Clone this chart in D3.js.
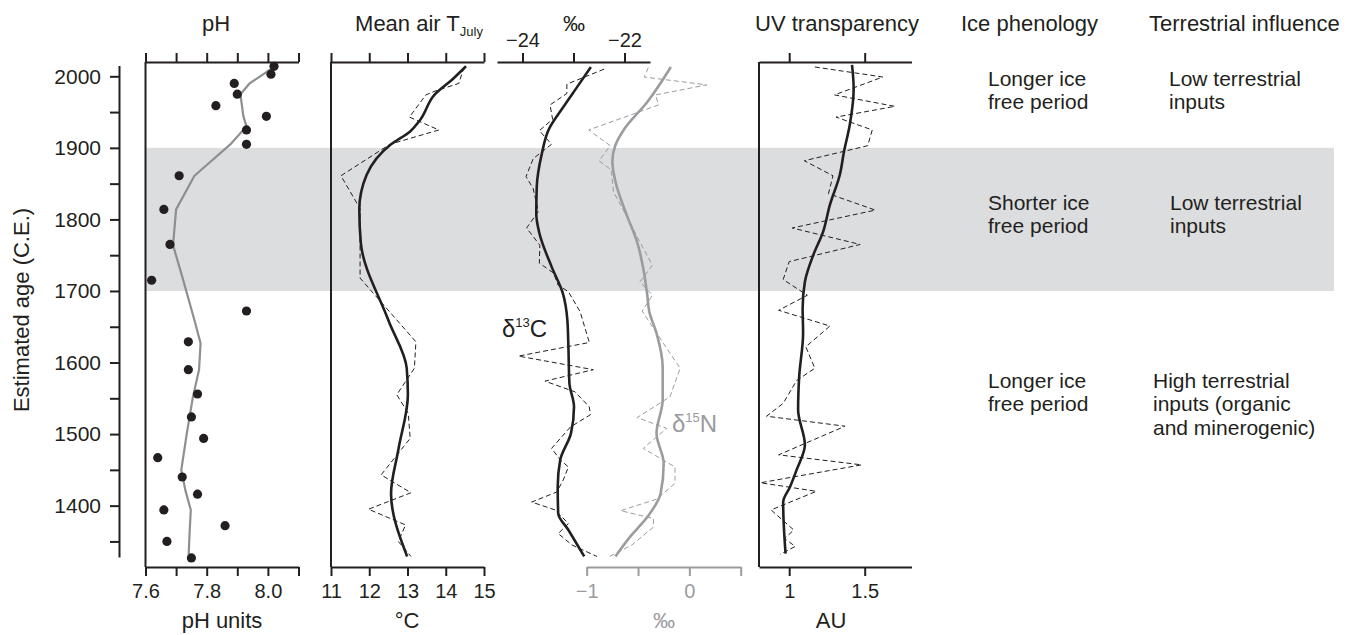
<!DOCTYPE html>
<html>
<head>
<meta charset="utf-8">
<script src="https://cdn.jsdelivr.net/npm/d3@7"></script>
<style>
  body { margin: 0; background: #fff; }
  svg text { font-family: "Liberation Sans", Arial, Helvetica, sans-serif; }
</style>
</head>
<body>
<svg id="chart" width="1354" height="635"></svg>
<script>
// ---- axis ticks ----
var ageTicks = [1350, 1400, 1450, 1500, 1550, 1600, 1650, 1700, 1750, 1800, 1850, 1900, 1950, 2000];
var phTicks = [7.6, 7.7, 7.8, 7.9, 8.0, 8.1];
var phLabels = [7.6, 7.8, 8.0];
var tempTicks = [11, 12, 13, 14, 15];
var d13cTicks = [-24, -23, -22];
var d13cLabels = [-24, -22];
var d15nTicks = [-1, -0.5, 0, 0.5];
var d15nLabels = [-1, 0];
var uvTicks = [1, 1.5];

// ---- pH ----
var phYears = [2014, 2003, 1990, 1975, 1959, 1944, 1925, 1905, 1861, 1814, 1765, 1715, 1672, 1629, 1590, 1556, 1524, 1494, 1467, 1440, 1416, 1394, 1372, 1350, 1327];
var phValues = [8.02, 8.01, 7.89, 7.90, 7.83, 7.995, 7.93, 7.93, 7.71, 7.66, 7.68, 7.62, 7.93, 7.74, 7.74, 7.77, 7.75, 7.79, 7.64, 7.72, 7.77, 7.66, 7.86, 7.67, 7.75];
var phSmoothYears = [2013, 1990, 1975, 1944, 1930, 1906, 1861, 1814, 1764, 1720, 1659, 1627, 1590, 1552, 1501, 1450, 1422, 1394, 1361, 1331];
var phSmoothValues = [8.02, 7.94, 7.91, 7.92, 7.93, 7.88, 7.76, 7.70, 7.69, 7.72, 7.76, 7.78, 7.775, 7.755, 7.735, 7.717, 7.73, 7.748, 7.744, 7.741];

// ---- mean air T July ----
var tempYears = [2013, 1990, 1980, 1974, 1943, 1925, 1905, 1861, 1815, 1718, 1629, 1592, 1555, 1529, 1494, 1443, 1418, 1395, 1373, 1350, 1329];
var tempValues = [14.48, 14.34, 13.75, 13.48, 13.05, 13.82, 12.54, 11.26, 11.76, 11.76, 13.22, 13.18, 12.72, 13.02, 13.07, 12.31, 13.09, 11.98, 12.95, 12.76, 13.09];
var tempSmoothYears = [2014, 1997, 1975, 1939, 1923, 1905, 1862, 1814, 1767, 1659, 1592, 1555, 1478, 1417, 1329];
var tempSmoothValues = [14.53, 14.20, 13.72, 13.33, 13.07, 12.57, 11.93, 11.74, 11.78, 12.50, 12.98, 13.01, 12.76, 12.57, 12.99];

// ---- d13C ----
var d13cYears = [2010, 1989, 1976, 1960, 1940, 1924, 1905, 1885, 1860, 1843, 1811, 1788, 1764, 1739, 1725, 1708, 1699, 1671, 1628, 1609, 1590, 1574, 1559, 1538, 1527, 1510, 1480, 1464, 1454, 1436, 1419, 1405, 1394, 1375, 1361, 1345, 1329];
var d13cValues = [-22.40, -23.13, -23.13, -23.46, -23.41, -23.67, -23.43, -23.79, -23.93, -23.79, -23.69, -23.92, -23.66, -23.67, -23.39, -23.30, -23.10, -22.87, -22.69, -24.08, -22.61, -23.56, -22.97, -22.69, -22.67, -23.06, -23.43, -23.26, -23.10, -23.20, -23.33, -23.82, -23.36, -23.10, -23.30, -23.03, -22.54];
var d13cSmoothYears = [2013, 1988, 1957, 1925, 1892, 1846, 1808, 1781, 1734, 1697, 1659, 1622, 1571, 1538, 1501, 1464, 1426, 1389, 1366, 1329];
var d13cSmoothValues = [-22.66, -22.90, -23.20, -23.49, -23.62, -23.72, -23.73, -23.67, -23.43, -23.21, -23.12, -23.10, -23.08, -22.99, -23.05, -23.26, -23.31, -23.30, -23.10, -22.79];

// ---- d15N ----
var d15nYears = [2012, 1999, 1988, 1974, 1960, 1925, 1903, 1882, 1869, 1839, 1788, 1776, 1736, 1713, 1694, 1672, 1650, 1592, 1552, 1523, 1508, 1480, 1454, 1431, 1409, 1393, 1382, 1370, 1345, 1328];
var d15nValues = [-0.40, -0.44, 0.17, -0.33, -0.30, -0.98, -0.77, -0.88, -0.76, -0.74, -0.55, -0.51, -0.36, -0.48, -0.36, -0.46, -0.36, -0.09, -0.19, -0.51, -0.22, -0.45, -0.14, -0.14, -0.32, -0.67, -0.35, -0.35, -0.56, -0.79];
var d15nSmoothYears = [2013, 1964, 1925, 1904, 1881, 1853, 1806, 1769, 1732, 1694, 1671, 1641, 1594, 1548, 1501, 1459, 1417, 1384, 1356, 1329];
var d15nSmoothValues = [-0.18, -0.41, -0.64, -0.72, -0.75, -0.72, -0.61, -0.51, -0.45, -0.41, -0.39, -0.32, -0.26, -0.26, -0.32, -0.25, -0.28, -0.41, -0.58, -0.72];

// ---- UV transparency ----
var uvYears = [2013, 1999, 1974, 1958, 1943, 1925, 1903, 1882, 1861, 1836, 1813, 1788, 1765, 1741, 1716, 1694, 1673, 1651, 1622, 1592, 1575, 1543, 1525, 1511, 1471, 1457, 1432, 1420, 1394, 1366, 1354, 1343, 1332];
var uvValues = [1.17, 1.62, 1.30, 1.70, 1.31, 1.55, 1.52, 1.10, 1.29, 1.26, 1.57, 1.02, 1.47, 1.00, 0.96, 1.12, 0.93, 1.27, 1.11, 1.17, 1.05, 0.96, 0.85, 1.37, 0.93, 1.48, 0.81, 1.18, 0.88, 1.03, 0.97, 1.04, 0.94];
var uvSmoothYears = [2016, 1983, 1932, 1895, 1862, 1820, 1783, 1750, 1713, 1676, 1641, 1580, 1534, 1485, 1450, 1426, 1405, 1361, 1333];
var uvSmoothValues = [1.416, 1.427, 1.401, 1.363, 1.335, 1.269, 1.225, 1.159, 1.104, 1.089, 1.092, 1.066, 1.059, 1.104, 1.049, 1.005, 0.96, 0.967, 0.976];

// ---- interpretation columns ----
var icePhenology = [["Longer ice", "free period"], ["Shorter ice", "free period"], ["Longer ice", "free period"]];
var terrestrial = [["Low terrestrial", "inputs"], ["Low terrestrial", "inputs"], ["High terrestrial", "inputs (organic", "and minerogenic)"]];

var svg = d3.select("#chart");
var FONT = "'Liberation Sans', Arial, Helvetica, sans-serif";
var ink = "#231f20", grey = "#9a9c9f", bandFill = "#dcdddf";
var frameTop = 62, frameBot = 567;

var y = d3.scaleLinear().domain([1300, 2000]).range([577.2, 76.3]);

// scales per panel
var xPh = d3.scaleLinear().domain([7.6, 8.1]).range([145.5, 298.5]);
var xT = d3.scaleLinear().domain([11, 15]).range([331, 484]);
var xC = d3.scaleLinear().domain([-24.5, -21.5]).range([497, 650]);
var xN = d3.scaleLinear().domain([-1, 0.5]).range([586.7, 740.7]);
var xUv = d3.scaleLinear().domain([0.8, 1.81]).range([759, 911.5]);

// shaded period 1700-1900
svg.append("rect")
  .attr("x", 146).attr("width", 1334 - 146)
  .attr("y", y(1900)).attr("height", y(1700) - y(1900))
  .attr("fill", bandFill);

// age axis
var yAxis = d3.axisLeft(y).tickValues(ageTicks).tickSize(9).tickPadding(9)
  .tickFormat(function(d) { return d % 100 === 0 ? d : ""; });
var gy = svg.append("g").attr("transform", "translate(119,0)").call(yAxis)
  .attr("font-size", 21).attr("font-family", FONT).attr("color", ink);
gy.select(".domain").remove();
gy.append("line").attr("x1", 0.5).attr("x2", 0.5).attr("y1", y(2014.5)).attr("y2", y(1327.5)).attr("stroke", ink);
gy.selectAll("line").attr("stroke-width", 2);

svg.append("text")
  .attr("transform", "translate(29,310) rotate(-90)")
  .attr("text-anchor", "middle").attr("font-size", 22).attr("fill", ink)
  .text("Estimated age (C.E.)");

function hAxis(scale, orient, yPos, ticks, labels, fmt, color, pad) {
  var ax = (orient === "top" ? d3.axisTop(scale) : d3.axisBottom(scale))
    .tickValues(ticks).tickSize(9).tickSizeOuter(0).tickPadding(pad)
    .tickFormat(function(d) { return labels.indexOf(d) >= 0 ? fmt(d) : ""; });
  var g = svg.append("g").attr("transform", "translate(0," + yPos + ")").call(ax)
    .attr("font-size", 20).attr("font-family", FONT).attr("color", color);
  g.selectAll("path,line").attr("stroke-width", 2);
  return g;
}

function leftLine(scale) {
  var x0 = scale.range()[0];
  svg.append("line").attr("x1", x0).attr("x2", x0).attr("y1", frameTop).attr("y2", frameBot)
    .attr("stroke", ink).attr("stroke-width", 2);
}

function profile(scale, years, vals, color, width, dash, curve) {
  var line = d3.line()
    .x(function(d) { return scale(d[1]); })
    .y(function(d) { return y(d[0]); })
    .curve(curve || d3.curveLinear);
  svg.append("path").datum(d3.zip(years, vals))
    .attr("d", line).attr("fill", "none")
    .attr("stroke", color).attr("stroke-width", width)
    .attr("stroke-dasharray", dash ? "5,3" : null)
    .attr("stroke-linejoin", "round");
}

var noLabel = [];
var f1 = d3.format(".1f"), f0 = d3.format("");
var smooth = d3.curveMonotoneY;

// pH panel
hAxis(xPh, "top", frameTop, phTicks, noLabel, f0, ink, 6);
hAxis(xPh, "bottom", frameBot, phTicks, phLabels, f1, ink, 8);
leftLine(xPh);
profile(xPh, phSmoothYears, phSmoothValues, "#8d8f92", 2.2, false);
svg.append("g").selectAll("circle").data(d3.zip(phYears, phValues)).enter()
  .append("circle")
  .attr("cx", function(d) { return xPh(d[1]); })
  .attr("cy", function(d) { return y(d[0]); })
  .attr("r", 4.6).attr("fill", ink);

// temperature panel
hAxis(xT, "top", frameTop, tempTicks, noLabel, f0, ink, 6);
hAxis(xT, "bottom", frameBot, tempTicks, tempTicks, f0, ink, 8);
leftLine(xT);
profile(xT, tempYears, tempValues, ink, 1, true);
profile(xT, tempSmoothYears, tempSmoothValues, ink, 2.6, false, smooth);

// isotope panel
hAxis(xC, "top", frameTop, d13cTicks, d13cLabels, f0, ink, 6);
hAxis(xN, "bottom", frameBot, d15nTicks, d15nLabels, f0, grey, 8);
profile(xN, d15nYears, d15nValues, grey, 1, true);
profile(xN, d15nSmoothYears, d15nSmoothValues, grey, 2.6, false, smooth);
profile(xC, d13cYears, d13cValues, ink, 1, true);
profile(xC, d13cSmoothYears, d13cSmoothValues, ink, 2.6, false, smooth);

var lc = svg.append("text").attr("x", 502).attr("y", 337).attr("font-size", 24).attr("fill", ink);
lc.append("tspan").text("δ");
lc.append("tspan").attr("font-size", 13).attr("dy", -10).text("13");
lc.append("tspan").attr("dy", 10).text("C");
var ln = svg.append("text").attr("x", 672).attr("y", 432).attr("font-size", 24).attr("fill", grey);
ln.append("tspan").text("δ");
ln.append("tspan").attr("font-size", 13).attr("dy", -10).text("15");
ln.append("tspan").attr("dy", 10).text("N");

// UV panel
hAxis(xUv, "top", frameTop, uvTicks, noLabel, f0, ink, 6);
hAxis(xUv, "bottom", frameBot, uvTicks, uvTicks, f0, ink, 8);
leftLine(xUv);
profile(xUv, uvYears, uvValues, ink, 1, true);
profile(xUv, uvSmoothYears, uvSmoothValues, ink, 2.6, false, smooth);

// headers
function label(x, yy, txt, color, anchor) {
  return svg.append("text").attr("x", x).attr("y", yy).attr("font-size", 22)
    .attr("text-anchor", anchor || "middle").attr("fill", color || ink).text(txt);
}
label(216, 31, "pH");
var mt = svg.append("text").attr("x", 419).attr("y", 31).attr("font-size", 22)
  .attr("text-anchor", "middle").attr("fill", ink);
mt.append("tspan").text("Mean air T");
mt.append("tspan").attr("font-size", 13).attr("dy", 5).text("July");
label(574, 31, "‰");
label(837, 31, "UV transparency");
label(961, 31, "Ice phenology", ink, "start");
label(1149, 31, "Terrestrial influence", ink, "start");

// bottom titles
label(222, 628, "pH units");
label(407, 628, "°C");
label(664, 628, "‰", grey);
label(831, 628, "AU");

// interpretation text
var rowBase = [86, 210, 388];
var iceX = [988, 988, 988];
var terrX = [1169, 1170, 1153];
function block(x, yy, lines) {
  var t = svg.append("text").attr("x", x).attr("y", yy).attr("font-size", 21).attr("fill", ink);
  lines.forEach(function(s, i) {
    t.append("tspan").attr("x", x).attr("dy", i === 0 ? 0 : 23.3).text(s);
  });
}
icePhenology.forEach(function(l, i) { block(iceX[i], rowBase[i], l); });
terrestrial.forEach(function(l, i) { block(terrX[i], rowBase[i], l); });
</script>
</body>
</html>
